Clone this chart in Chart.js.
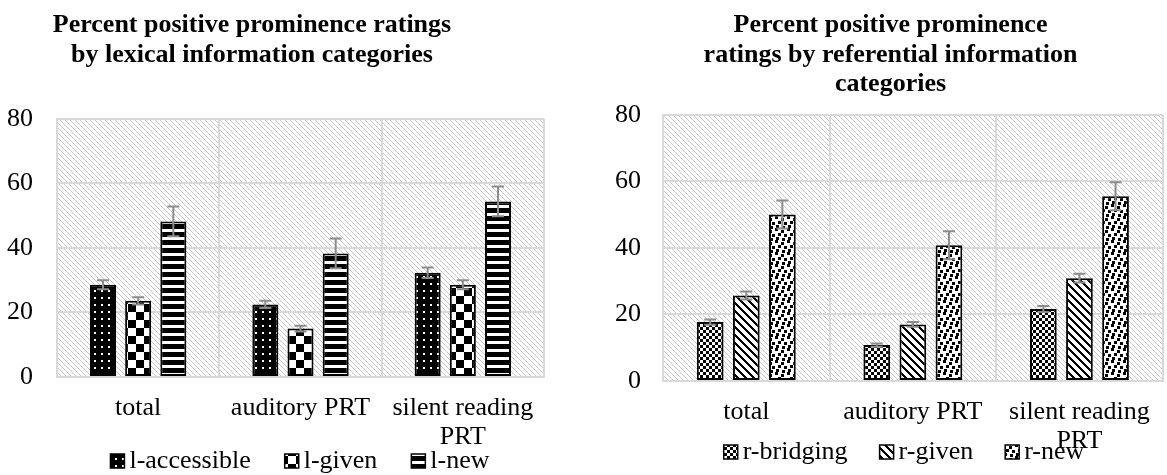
<!DOCTYPE html>
<html>
<head>
<meta charset="utf-8">
<script src="https://cdn.jsdelivr.net/npm/chart.js@4"></script>
<style>
  body { margin: 0; background: #fff; overflow: hidden; }
  #wrap { position: relative; width: 1167px; height: 475px; }
  canvas { position: absolute; top: 0; }
</style>
</head>
<body>
<div id="wrap">
  <canvas id="lexChart" width="583" height="475" style="left:0"></canvas>
  <canvas id="refChart" width="584" height="475" style="left:583px"></canvas>
</div>
<script>
// categories + axis
const groups = ['total', 'auditory PRT', ['silent reading', 'PRT']];
const yTicks = [0, 20, 40, 60, 80];

// lexical information
const lexNames = ['l-accessible', 'l-given', 'l-new'];
const lexAccessible = [28.6, 22.5, 32.3];
const lexGiven = [23.6, 15.0, 28.6];
const lexNew = [48.2, 38.3, 54.4];
const lexAccessibleErr = [1.4, 1.1, 1.6];
const lexGivenErr = [1.1, 0.9, 1.4];
const lexNewErr = [4.6, 4.6, 4.6];

// referential information
const refNames = ['r-bridging', 'r-given', 'r-new'];
const refBridging = [17.7, 10.8, 21.6];
const refGiven = [25.7, 17.0, 30.9];
const refNew = [50.0, 40.8, 55.5];
const refBridgingErr = [0.8, 0.5, 0.9];
const refGivenErr = [1.2, 0.7, 1.3];
const refNewErr = [4.2, 4.2, 4.2];

const FONT = "'Liberation Serif', 'Times New Roman', serif";
Chart.defaults.font.family = FONT;
Chart.defaults.color = '#000';

/* fill patterns */
function makePattern(size, paint) {
  const c = document.createElement('canvas');
  c.width = c.height = size;
  const g = c.getContext('2d');
  paint(g, size);
  return g.createPattern(c, 'repeat');
}

const hatch = makePattern(5, (g, n) => {
  g.fillStyle = '#fff';
  g.fillRect(0, 0, n, n);
  g.fillStyle = '#c8c8c8';
  for (let i = 0; i < n; i++) g.fillRect(i, i, 1, 1);
});

const dots = makePattern(7, (g, n) => {
  g.fillStyle = '#000';
  g.fillRect(0, 0, n, n);
  g.fillStyle = '#fff';
  g.fillRect(3, 3, 2, 2);
});

const bigChecker = makePattern(16, (g, n) => {
  g.fillStyle = '#fff';
  g.fillRect(0, 0, n, n);
  g.fillStyle = '#000';
  g.fillRect(0, 0, 8, 8);
  g.fillRect(8, 8, 8, 8);
});

const hStripes = makePattern(8, (g, n) => {
  g.fillStyle = '#fff';
  g.fillRect(0, 0, n, n);
  g.fillStyle = '#000';
  g.fillRect(0, 0, n, 5);
});

const smallChecker = makePattern(6, (g, n) => {
  g.fillStyle = '#fff';
  g.fillRect(0, 0, n, n);
  g.fillStyle = '#000';
  g.fillRect(0, 0, 3, 3);
  g.fillRect(3, 3, 3, 3);
});

const diagStripes = makePattern(8, (g, n) => {
  g.fillStyle = '#fff';
  g.fillRect(0, 0, n, n);
  g.fillStyle = '#000';
  for (let i = 0; i < n; i++) {
    for (let w = 0; w < 3; w++) g.fillRect((i + w) % n, i, 1, 1);
  }
});

const confetti = makePattern(12, (g, n) => {
  g.fillStyle = '#fff';
  g.fillRect(0, 0, n, n);
  g.fillStyle = '#000';
  const spots = [[0, 0], [6, 2], [3, 5], [9, 6], [1, 9], [7, 10]];
  spots.forEach(([x, y]) => {
    for (let dx = 0; dx < 3; dx++)
      for (let dy = 0; dy < 3; dy++)
        g.fillRect((x + dx) % n, (y + dy) % n, 1, 1);
  });
});

/* plugins */
const plotHatch = {
  id: 'plotHatch',
  beforeDraw(chart) {
    const { ctx, chartArea: a } = chart;
    ctx.save();
    ctx.fillStyle = hatch;
    ctx.fillRect(a.left, a.top, a.right - a.left, a.bottom - a.top);
    ctx.restore();
  }
};

const errorBars = {
  id: 'errorBars',
  afterDatasetsDraw(chart) {
    const { ctx } = chart;
    const y = chart.scales.y;
    ctx.save();
    ctx.strokeStyle = '#8c8c8c';
    ctx.lineWidth = 2;
    chart.data.datasets.forEach((ds, i) => {
      chart.getDatasetMeta(i).data.forEach((bar, j) => {
        const v = ds.data[j], e = ds.errors[j];
        const top = y.getPixelForValue(v + e);
        const bot = y.getPixelForValue(v - e);
        ctx.beginPath();
        ctx.moveTo(bar.x, top); ctx.lineTo(bar.x, bot);
        ctx.moveTo(bar.x - 6, top); ctx.lineTo(bar.x + 6, top);
        ctx.moveTo(bar.x - 6, bot); ctx.lineTo(bar.x + 6, bot);
        ctx.stroke();
      });
    });
    ctx.restore();
  }
};

// small legend row: pattern box, tight gap, label
const boxLegend = {
  id: 'boxLegend',
  afterDraw(chart, args, opts) {
    const { ctx } = chart;
    const items = chart.data.datasets;
    const box = 14, gap = 5;
    ctx.save();
    ctx.font = `26px ${FONT}`;
    ctx.textBaseline = 'middle';
    const widths = items.map(ds => box + gap + ctx.measureText(ds.label).width);
    const total = widths.reduce((a, b) => a + b, 0) + opts.spacing * (items.length - 1);
    let x = opts.centerX - total / 2;
    items.forEach((ds, i) => {
      ctx.fillStyle = ds.backgroundColor;
      ctx.fillRect(x, opts.y - box / 2, box, box);
      ctx.lineWidth = 1.5;
      ctx.strokeStyle = '#000';
      ctx.strokeRect(x, opts.y - box / 2, box, box);
      ctx.fillStyle = '#000';
      ctx.fillText(ds.label, x + box + gap, opts.y);
      x += widths[i] + opts.spacing;
    });
    ctx.restore();
  }
};

function series(label, data, errors, fill) {
  return {
    label, data, errors,
    backgroundColor: fill,
    borderColor: '#000',
    borderWidth: 2,
    borderSkipped: false,
    categoryPercentage: 0.65,
    barPercentage: 0.74
  };
}

function drawChart(id, title, datasets, s) {
  return new Chart(document.getElementById(id), {
    type: 'bar',
    data: { labels: groups, datasets },
    plugins: [plotHatch, errorBars, boxLegend],
    options: {
      responsive: false,
      animation: false,
      layout: { padding: s.padding },
      plugins: {
        title: {
          display: true,
          text: title,
          font: { size: 26, weight: 'bold', lineHeight: 1.15 },
          padding: { top: 10, bottom: s.titleGap }
        },
        legend: { display: false },
        boxLegend: s.legend,
        tooltip: { enabled: false }
      },
      scales: {
        x: {
          grid: { color: '#d9d9d9', lineWidth: 2, drawTicks: false },
          border: { color: '#d9d9d9', width: 2 },
          ticks: { font: { size: 26, lineHeight: 1.1 }, padding: 17, maxRotation: 0, autoSkip: false },
          afterFit: sc => { sc.height = 80; }
        },
        y: {
          min: yTicks[0],
          max: yTicks[yTicks.length - 1],
          ticks: { stepSize: yTicks[1] - yTicks[0], font: { size: 26 }, padding: s.tickGap },
          grid: { color: '#d9d9d9', lineWidth: 2, drawTicks: false },
          border: { color: '#d9d9d9', width: 2 },
          afterFit: sc => { sc.width = s.yWidth; }
        }
      }
    }
  });
}

drawChart('lexChart',
  ['Percent positive prominence ratings', 'by lexical information categories'],
  [
    series(lexNames[0], lexAccessible, lexAccessibleErr, dots),
    series(lexNames[1], lexGiven, lexGivenErr, bigChecker),
    series(lexNames[2], lexNew, lexNewErr, hStripes)
  ],
  {
    padding: { left: -40, right: 39, top: 0, bottom: 18 },
    titleGap: 49, yWidth: 97, tickGap: 24,
    legend: { centerX: 300, y: 461, spacing: 34 }
  }
);

drawChart('refChart',
  ['Percent positive prominence', 'ratings by referential information', 'categories'],
  [
    series(refNames[0], refBridging, refBridgingErr, smallChecker),
    series(refNames[1], refGiven, refGivenErr, diagStripes),
    series(refNames[2], refNew, refNewErr, confetti)
  ],
  {
    padding: { left: 32, right: 1, top: 0, bottom: 14 },
    titleGap: 15, yWidth: 48, tickGap: 22,
    legend: { centerX: 321, y: 452, spacing: 32 }
  }
);
</script>
</body>
</html>
